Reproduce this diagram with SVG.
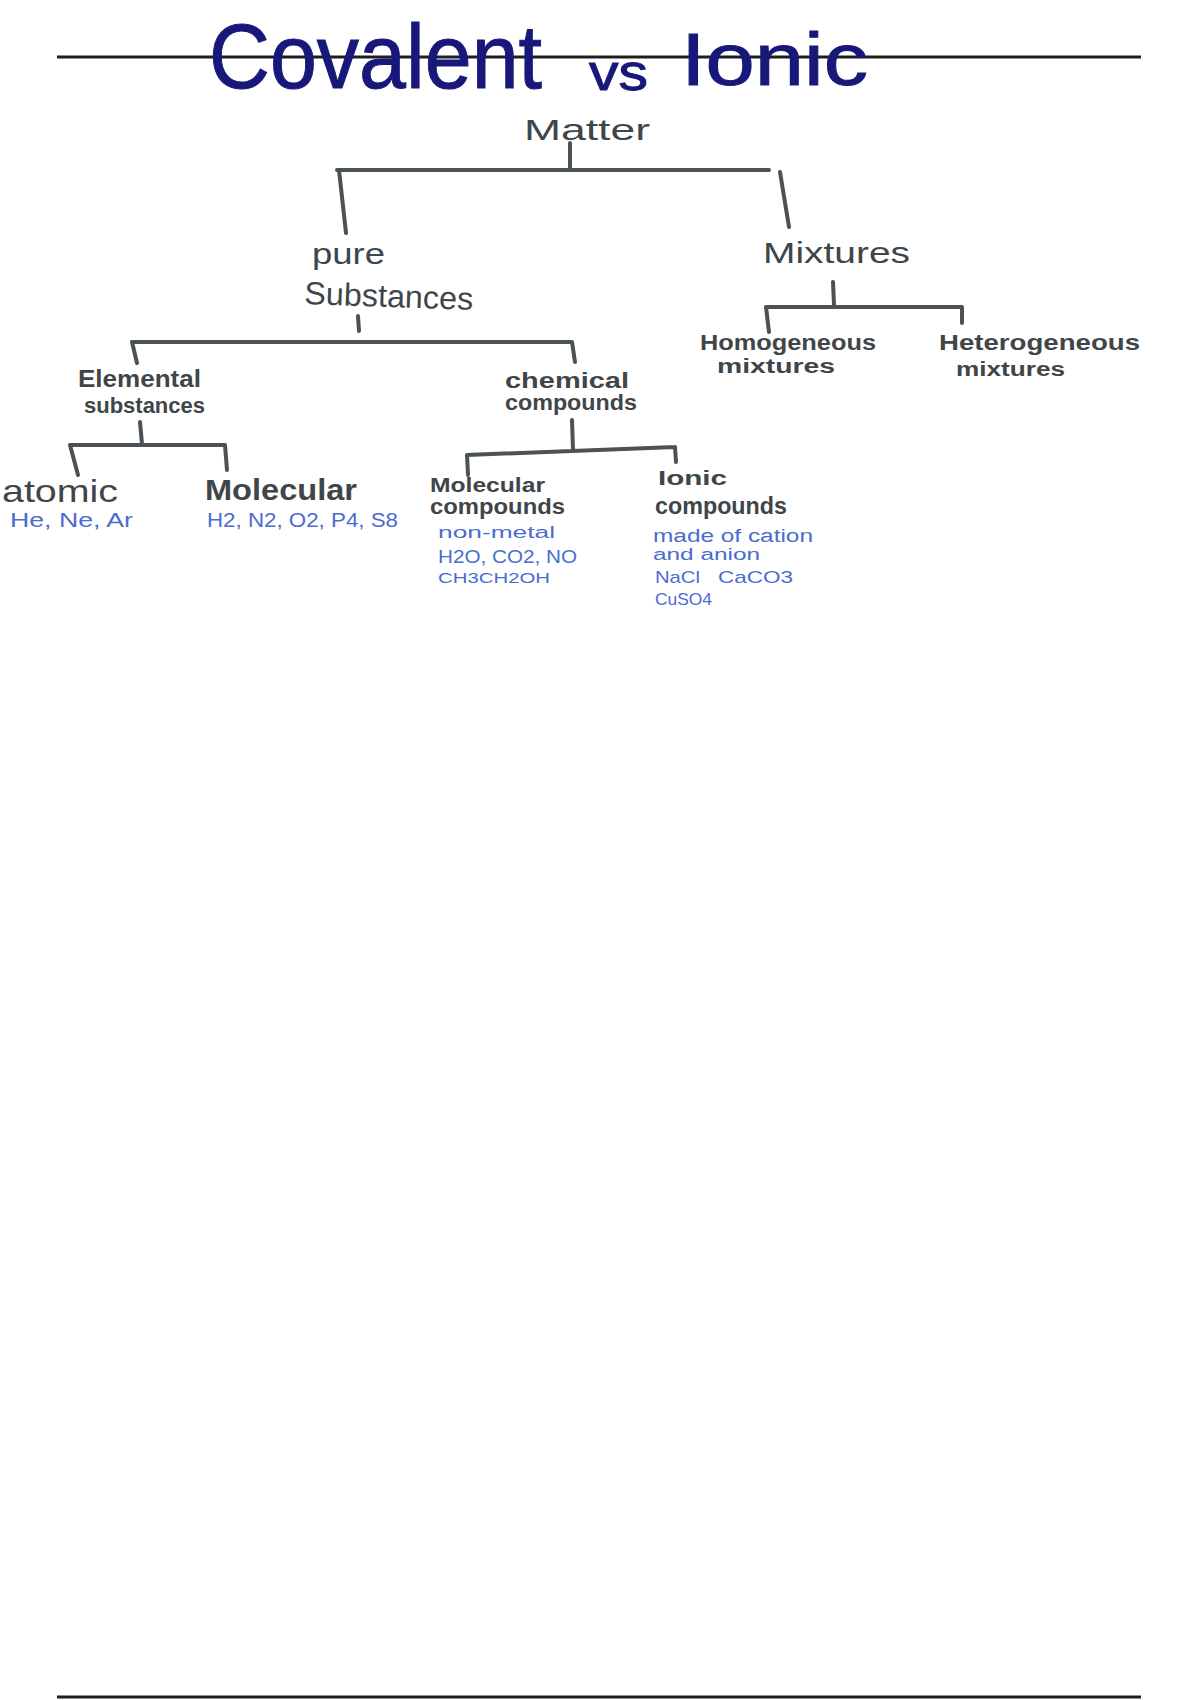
<svg xmlns="http://www.w3.org/2000/svg" width="1200" height="1700" viewBox="0 0 1200 1700">
<style>
  .t { font-family: "Liberation Sans", "DejaVu Sans", sans-serif; fill: #3f4649; }
  .b { font-weight: bold; }
  .blue { font-family: "Liberation Sans", "DejaVu Sans", sans-serif; fill: #4a6ccf; }
  .title { font-family: "Liberation Sans", "DejaVu Sans", sans-serif; fill: #18187a; stroke: #18187a; stroke-width: 1; }
  .rule { stroke: #1e1e1e; stroke-width: 3; fill: none; }
  .c { stroke: #4a5255; stroke-width: 4; fill: none; stroke-linecap: round; stroke-linejoin: round; }
</style>
<rect x="0" y="0" width="1200" height="1700" fill="#ffffff"/>
<line class="rule" x1="57" y1="57" x2="1141" y2="57"/>
<line class="rule" x1="57" y1="1697" x2="1141" y2="1697"/>
<g id="title">
  <text class="title" x="209" y="88" font-size="90" textLength="333" lengthAdjust="spacingAndGlyphs">Covalent</text>
  <text class="title" x="589" y="90" font-size="52" textLength="59" lengthAdjust="spacingAndGlyphs">vs</text>
  <text class="title" x="681" y="85" font-size="74" textLength="187" lengthAdjust="spacingAndGlyphs">Ionic</text>
</g>
<g id="connectors">
  <path class="c" d="M570 143 L570 170 M337 170 L769 170 M339 170 L346 233 M780 172 L789 227"/>
  <path class="c" d="M358 316 L359 331 M132 342 L572 342 M132 342 L137 363 M572 342 L575 362"/>
  <path class="c" d="M833 282 L834 305 M766 307 L962 307 M766 307 L769 332 M962 307 L962 323"/>
  <path class="c" d="M140 422 L142 444 M70 445 L225 445 M70 445 L78 475 M225 445 L227 470"/>
  <path class="c" d="M572 420 L573 450 M467 455 L675 447 M467 455 L468 475 M675 447 L676 462"/>
</g>
<g id="node-matter">
  <text class="t" x="524" y="140" font-size="30" textLength="126" lengthAdjust="spacingAndGlyphs">Matter</text>
</g>
<g id="node-pure-substances">
  <text class="t" x="312" y="264" font-size="30" textLength="73" lengthAdjust="spacingAndGlyphs">pure</text>
  <text class="t" x="304" y="304" font-size="32" textLength="169" lengthAdjust="spacingAndGlyphs" transform="rotate(2 304 304)">Substances</text>
</g>
<g id="node-mixtures">
  <text class="t" x="763" y="263" font-size="30" textLength="147" lengthAdjust="spacingAndGlyphs">Mixtures</text>
</g>
<g id="node-homogeneous">
  <text class="t b" x="700" y="350" font-size="22" textLength="176" lengthAdjust="spacingAndGlyphs">Homogeneous</text>
  <text class="t b" x="717" y="373" font-size="20" textLength="118" lengthAdjust="spacingAndGlyphs">mixtures</text>
</g>
<g id="node-heterogeneous">
  <text class="t b" x="939" y="350" font-size="22" textLength="201" lengthAdjust="spacingAndGlyphs">Heterogeneous</text>
  <text class="t b" x="956" y="376" font-size="20" textLength="109" lengthAdjust="spacingAndGlyphs">mixtures</text>
</g>
<g id="node-elemental">
  <text class="t b" x="78" y="387" font-size="24" textLength="123" lengthAdjust="spacingAndGlyphs">Elemental</text>
  <text class="t b" x="84" y="413" font-size="22" textLength="121" lengthAdjust="spacingAndGlyphs">substances</text>
</g>
<g id="node-chemical">
  <text class="t b" x="505" y="388" font-size="22" textLength="124" lengthAdjust="spacingAndGlyphs">chemical</text>
  <text class="t b" x="505" y="410" font-size="22" textLength="132" lengthAdjust="spacingAndGlyphs">compounds</text>
</g>
<g id="node-atomic">
  <text class="t" x="2" y="502" font-size="32" textLength="116" lengthAdjust="spacingAndGlyphs">atomic</text>
  <text class="blue" x="10" y="527" font-size="20" textLength="123" lengthAdjust="spacingAndGlyphs">He, Ne, Ar</text>
</g>
<g id="node-molecular">
  <text class="t b" x="205" y="500" font-size="30" textLength="152" lengthAdjust="spacingAndGlyphs">Molecular</text>
  <text class="blue" x="207" y="527" font-size="20" textLength="191" lengthAdjust="spacingAndGlyphs">H2, N2, O2, P4, S8</text>
</g>
<g id="node-molecular-compounds">
  <text class="t b" x="430" y="492" font-size="20" textLength="115" lengthAdjust="spacingAndGlyphs">Molecular</text>
  <text class="t b" x="430" y="514" font-size="22" textLength="135" lengthAdjust="spacingAndGlyphs">compounds</text>
  <text class="blue" x="438" y="538" font-size="16" textLength="117" lengthAdjust="spacingAndGlyphs">non-metal</text>
  <text class="blue" x="438" y="563" font-size="18" textLength="139" lengthAdjust="spacingAndGlyphs">H2O, CO2, NO</text>
  <text class="blue" x="438" y="583" font-size="15" textLength="112" lengthAdjust="spacingAndGlyphs">CH3CH2OH</text>
</g>
<g id="node-ionic-compounds">
  <text class="t b" x="658" y="485" font-size="20" textLength="69" lengthAdjust="spacingAndGlyphs">Ionic</text>
  <text class="t b" x="655" y="514" font-size="24" textLength="132" lengthAdjust="spacingAndGlyphs">compounds</text>
  <text class="blue" x="653" y="542" font-size="18" textLength="160" lengthAdjust="spacingAndGlyphs">made of cation</text>
  <text class="blue" x="653" y="560" font-size="16" textLength="107" lengthAdjust="spacingAndGlyphs">and anion</text>
  <text class="blue" x="655" y="583" font-size="17" textLength="45" lengthAdjust="spacingAndGlyphs">NaCl</text>
  <text class="blue" x="718" y="583" font-size="17" textLength="75" lengthAdjust="spacingAndGlyphs">CaCO3</text>
  <text class="blue" x="655" y="605" font-size="17" textLength="57" lengthAdjust="spacingAndGlyphs">CuSO4</text>
</g>
</svg>
